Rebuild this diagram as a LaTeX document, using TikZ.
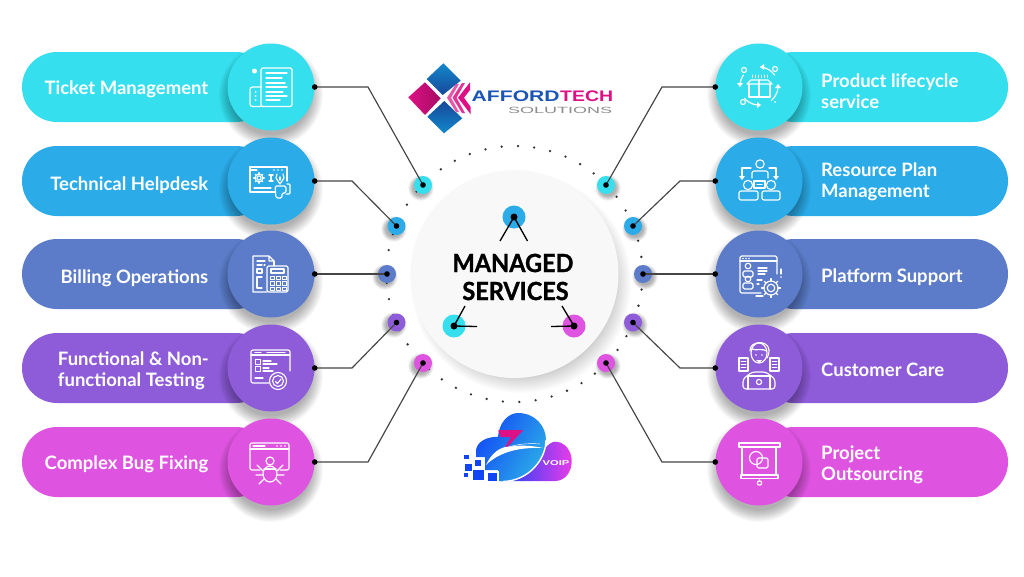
\documentclass[tikz,border=0pt]{standalone}
\usepackage{fontspec}
\setmainfont{Lato}
\newfontfamily\logofont{Liberation Sans}
\newfontfamily\hubfont[BoldFeatures={FakeBold=1.2}]{Lato}
\usetikzlibrary{shapes.misc}
\definecolor{cCy}{HTML}{35DFEE}
\definecolor{cBl}{HTML}{2BABE8}
\definecolor{cSl}{HTML}{5C7CC9}
\definecolor{cPu}{HTML}{8E5CD8}
\definecolor{cMa}{HTML}{DE54E0}
\definecolor{cLine}{HTML}{444444}
\definecolor{cHub}{HTML}{F8F8F8}
\definecolor{cLogoB}{HTML}{1B55B5}
\definecolor{cLogoM}{HTML}{DD1085}
\tikzset{
  pill/.style={rounded rectangle,minimum width=249pt,minimum height=70pt,inner sep=0pt,fill=#1},
  disc/.style={circle,minimum size=87pt,inner sep=0pt,fill=#1},
  mark/.style={circle,minimum size=18pt,inner sep=0pt,fill=#1},
  hubmark/.style={circle,minimum size=23pt,inner sep=0pt,fill=#1},
  pin/.style={circle,minimum size=5.6pt,inner sep=0pt,fill=black},
  wire/.style={draw=cLine,line width=1.15pt},
  lab/.style={text=white,font=\bfseries\fontsize{18.5}{21}\selectfont,inner sep=0pt,align=left},
  one/.style={text height=13pt,text depth=4pt},
  icon/.style={draw=white,line width=1.15pt,line join=round,line cap=round,fill=none},
  ifill/.style={fill=white,draw=none},
  hubtext/.style={text=black,font=\hubfont\bfseries\fontsize{25}{25}\selectfont,inner sep=0pt}
}
\newcommand\softshadow[5]{% x y r extent opacity
  \foreach \i in {0,...,13}{
    \fill[black,opacity=#5] (#1,#2) circle ({#3+#4*(1-\i/13)});
  }}
\newcommand\gearshape[3]{% x y r
  \draw[icon] (#1,#2) circle ({#3*.42});
  \draw[icon] (#1,#2) circle ({#3*.78});
  \foreach \a in {0,45,...,315}{
    \draw[icon] ({#1+#3*.78*cos(\a)},{#2+#3*.78*sin(\a)}) -- ({#1+#3*1.05*cos(\a)},{#2+#3*1.05*sin(\a)});
  }}
\begin{document}
\begin{tikzpicture}[x=1pt,y=-1pt]
\useasboundingbox (0,0) rectangle (1024,576);
\fill[white] (0,0) rectangle (1024,576);

% pills
\node[pill=cCy] (pl1) at (146.5,87) {};
\node[pill=cBl] (pl2) at (146.5,181) {};
\node[pill=cSl] (pl3) at (146.5,274) {};
\node[pill=cPu] (pl4) at (146.5,368) {};
\node[pill=cMa] (pl5) at (146.5,462) {};
\node[pill=cCy] (pr1) at (883.5,87) {};
\node[pill=cBl] (pr2) at (883.5,181) {};
\node[pill=cSl] (pr3) at (883.5,274) {};
\node[pill=cPu] (pr4) at (883.5,368) {};
\node[pill=cMa] (pr5) at (883.5,462) {};

% shadows of discs
\foreach \x in {271,759}{
  \foreach \y in {87,181,274,368,462}{
    \softshadow{\x}{\y+8}{40}{12}{0.024}
  }
}

% discs
\node[disc=cCy] (cl1) at (271,87) {};
\node[disc=cBl] (cl2) at (271,181) {};
\node[disc=cSl] (cl3) at (271,274) {};
\node[disc=cPu] (cl4) at (271,368) {};
\node[disc=cMa] (cl5) at (271,462) {};
\node[disc=cCy] (cr1) at (759,87) {};
\node[disc=cBl] (cr2) at (759,181) {};
\node[disc=cSl] (cr3) at (759,274) {};
\node[disc=cPu] (cr4) at (759,368) {};
\node[disc=cMa] (cr5) at (759,462) {};

% labels
\node[lab,one,anchor=east] (tl1) at (208.5,89.5) {Ticket Management};
\node[lab,one,anchor=east] (tl2) at (208.5,185.5) {Technical Helpdesk};
\node[lab,one,anchor=east] (tl3) at (208.5,278.5) {Billing Operations};
\node[lab,anchor=east] (tl4) at (209,371) {Functional \& Non-\\functional Testing};
\node[lab,one,anchor=east] (tl5) at (208.5,464.5) {Complex Bug Fixing};
\node[lab,anchor=west] (tr1) at (821,91.5) {Product lifecycle\\service};
\node[lab,anchor=west] (tr2) at (821,181.5) {Resource Plan\\Management};
\node[lab,one,anchor=west] (tr3) at (821,277.5) {Platform Support};
\node[lab,one,anchor=west] (tr4) at (821,371.5) {Customer Care};
\node[lab,anchor=west] (tr5) at (821,464.5) {Project\\Outsourcing};

% hub shadow + hub
\softshadow{521}{283}{91}{19}{0.014}
\node[circle,minimum size=208pt,inner sep=0pt,fill=cHub] (hub) at (514.5,274) {};

% dotted ring
\foreach \k in {0,...,48}{
  \pgfmathsetmacro\a{88.4+7.35*\k}
  \fill[black!80] ({514.5+128*cos(\a)},{274-128*sin(\a)}) circle (1.3);
}

% outer marks with shadows
\foreach \x/\y/\d in {423/185/-2,396/226/-2,387/274/-2,396/322/-2,423/363/-2,606/185/2,633/226/2,643/274/2,633/322/2,606/363/2}{
  \softshadow{\x+\d}{\y+3}{8}{5}{0.024}
}
\node[mark=cCy] (ml1) at (423,185) {};
\node[mark=cBl] (ml2) at (396.5,226) {};
\node[mark=cSl] (ml3) at (387,274) {};
\node[mark=cPu] (ml4) at (396.5,322.5) {};
\node[mark=cMa] (ml5) at (423,363) {};
\node[mark=cCy] (mr1) at (606,185) {};
\node[mark=cBl] (mr2) at (633,226) {};
\node[mark=cSl] (mr3) at (643,274) {};
\node[mark=cPu] (mr4) at (633,322.5) {};
\node[mark=cMa] (mr5) at (606,363) {};

% connectors
\coordinate (bl1) at (368,87);
\coordinate (bl2) at (352,181);
\coordinate (bl4) at (352,368);
\coordinate (bl5) at (368,462);
\coordinate (br1) at (662,87);
\coordinate (br2) at (680,181);
\coordinate (br4) at (680,368);
\coordinate (br5) at (662,462);
\draw[wire] (cl1.east) -- (bl1) -- (ml1.center);
\draw[wire] (cl2.east) -- (bl2) -- (ml2.center);
\draw[wire] (cl3.east) -- (ml3.center);
\draw[wire] (cl4.east) -- (bl4) -- (ml4.center);
\draw[wire] (cl5.east) -- (bl5) -- (ml5.center);
\draw[wire] (cr1.west) -- (br1) -- (mr1.center);
\draw[wire] (cr2.west) -- (br2) -- (mr2.center);
\draw[wire] (cr3.west) -- (mr3.center);
\draw[wire] (cr4.west) -- (br4) -- (mr4.center);
\draw[wire] (cr5.west) -- (br5) -- (mr5.center);
\foreach \n in {ml1,ml2,ml3,ml4,ml5,mr1,mr2,mr3,mr4,mr5}{
  \node[pin] at (\n.center) {};
}
\foreach \n in {cl1,cl2,cl3,cl4,cl5}{ \node[pin] at (\n.east) {}; }
\foreach \n in {cr1,cr2,cr3,cr4,cr5}{ \node[pin] at (\n.west) {}; }

% hub marks
\node[hubmark=cBl] (h1) at (514,217) {};
\node[hubmark=cCy] (h2) at (454,326) {};
\node[hubmark=cMa] (h3) at (574,326) {};
\coordinate (h1a) at (500,241);
\coordinate (h1b) at (527.5,241);
\coordinate (h2a) at (465,306);
\coordinate (h2b) at (477,326.5);
\coordinate (h3a) at (562,306);
\coordinate (h3b) at (551,326.5);
\draw[black,line width=1.3pt] (h1a) -- (h1.center) -- (h1b);
\draw[black,line width=1.3pt] (h2a) -- (h2.center) -- (h2b);
\draw[black,line width=1.3pt] (h3a) -- (h3.center) -- (h3b);
\node[pin,minimum size=7pt] at (h1.center) {};
\node[pin,minimum size=7pt] at (h2.center) {};
\node[pin,minimum size=7pt] at (h3.center) {};

\node[hubtext] (t1) at (513,263) {\scalebox{.94}[1]{MANAGED}};
\node[hubtext] (t2) at (515.5,291) {\scalebox{.94}[1]{SERVICES}};

% ---------- icons ----------
% ticket
\begin{scope}[shift={(271,87)}]
  \draw[icon,rounded corners=1.5] (-10,19.5) -- (-10,-19) -- (21,-19) -- (21,19.5) -- cycle;
  \draw[icon,rounded corners=2.5] (-10,0) -- (-21,0) -- (-21,19.5) -- (-10,19.5);
  \fill[ifill] (-16.5,-16) circle (2.5);
  \foreach \y/\e in {-14/16,-9/11,-4/14,0/16,5/12,9/16,13/9}{ \draw[icon] (-5,\y) -- (\e,\y); }
  \foreach \y in {5,9,13}{ \fill[ifill] (-15.5,\y) circle (1); }
\end{scope}
% technical
\begin{scope}[shift={(271,181)}]
  \draw[icon] (4,11) -- (-21,11) -- (-21,-14) -- (16,-14) -- (16,0);
  \draw[icon] (-21,-11) -- (-14,-11);
  \foreach \x in {3,7,11}{ \fill[ifill] (\x,-11) circle (.8); }
  \gearshape{-12}{-3}{5}
  \draw[icon] (-2,-6) -- (2,-6) (0,-6) -- (0,0) (-2,0) -- (2,0);
  \draw[icon] (-17,7) -- (0,7);
  \draw[icon] (6,-7) -- (5,-3) -- (9,3) -- (13,-3) -- (12,-7);
  \draw[icon] (9,-4) -- (9,-1);
  \draw[icon,rounded corners=1.5] (4,5) -- (15,5) -- (15,12) -- (11,12) -- (11,17) -- (5,17) -- cycle;
  \draw[icon,rounded corners=1] (16,3) -- (19,3) -- (19,13) -- (15,13);
\end{scope}
% billing
\begin{scope}[shift={(271,274)}]
  \draw[icon] (-4,18) -- (-18,18) -- (-18,-18) -- (-2,-18) -- (3,-13) (-2,-18) -- (-2,-13) -- (3,-13);
  \draw[icon] (3,-13) -- (3,-8);
  \draw[icon] (-14,-13) -- (-6,-13);
  \draw[icon] (-14,-9) -- (-9,-9) (-7,-9) -- (-6,-9);
  \draw[icon] (-14,-5) rectangle (-9,-1);
  \draw[icon] (-9,3) -- (-14,3) -- (-14,14) -- (-9,14);
  \draw[icon,rounded corners=1.5] (-4,-8) rectangle (17,18);
  \draw[icon] (0,-5) rectangle (13,-1);
  \foreach \x in {-1,5,11}{ \foreach \y in {2,7.5,13}{ \draw[icon,line width=.9pt] (\x,\y) rectangle ++(4,3.5); } }
\end{scope}
% testing
\begin{scope}[shift={(271,368)}]
  \draw[icon,rounded corners=2] (-2,15) -- (-20,15) -- (-20,-18) -- (19,-18) -- (19,3);
  \draw[icon] (-20,-13) -- (19,-13);
  \draw[icon] (-16,-15.5) -- (-10,-15.5) (-4,-15.5) -- (14,-15.5);
  \draw[icon] (-15.5,-8.5) rectangle (-10.5,-3.5);
  \draw[icon] (-15.5,-1.5) rectangle (-10.5,3.5);
  \draw[icon] (-8,-7) -- (0,-7) (-8,-4) -- (6,-4);
  \draw[icon] (-8,0) -- (-2,0) (-8,3) -- (2,3);
  \draw[icon] (-16,10) -- (-8,10);
  \draw[icon] (7,13) circle (8.5);
  \draw[icon] (7,13) circle (5.5);
  \draw[icon] (4.5,13.5) -- (6.5,15.5) -- (10,11);
\end{scope}
% bug
\begin{scope}[shift={(271,462)}]
  \draw[icon,rounded corners=2] (-11,8) -- (-21,8) -- (-21,-19) -- (18,-19) -- (18,8) -- (9,8);
  \draw[icon] (-21,-13) -- (18,-13);
  \draw[icon] (-18,-16) -- (-6,-16);
  \foreach \x in {6,10,14}{ \fill[ifill] (\x,-16) circle (.9); }
  \draw[icon] (-1,12) ellipse (7 and 8);
  \draw[icon] (-1,-1) circle (4);
  \draw[icon] (-8,9) -- (-14,3) (-8,13) -- (-15,13) (-7,17) -- (-12,22);
  \draw[icon] (6,9) -- (12,3) (6,13) -- (13,13) (5,17) -- (10,22);
  \draw[icon] (-7,7) -- (5,7);
\end{scope}
% product
\begin{scope}[shift={(759,87)}]
  \foreach \s/\e in {-85/-35,0/50,95/140,180/215}{
    \draw[icon] plot[domain=\s:\e,samples=12] ({19*cos(\x)},{-1+19*sin(\x)});
  }
  \fill[ifill] (1,-20) -- (5,-23) -- (5,-17) -- cycle;
  \fill[ifill] (19,-3) -- (22,1) -- (16,1) -- cycle;
  \fill[ifill] (2,18) -- (-2,15) -- (-2,21) -- cycle;
  \fill[ifill] (-19,0) -- (-22,-4) -- (-16,-4) -- cycle;
  \draw[icon] (-15,-17) circle (2.5);
  \draw[icon] (16,-18) circle (2.5);
  \draw[icon] (-16,15) circle (2.5);
  \fill[ifill] (16,15) circle (1);
  \draw[icon] (-12,-3) -- (-8,-7) -- (9,-7) -- (13,-3) -- cycle;
  \draw[icon] (-10,-3) -- (-10,10) -- (11,10) -- (11,-3);
  \draw[icon] (0,-7) -- (0,10);
  \foreach \x in {-7,-4,-1,2,5,8}{ \draw[icon,line width=.6pt] (\x,-12) -- (\x,-9.5); }
\end{scope}
% resource
\begin{scope}[shift={(759,181)}]
  \draw[icon] (1,-17) circle (4.2);
  \draw[icon,rounded corners=2] (-7,-3) -- (-7,-10) -- (9,-10) -- (9,-3);
  \draw[icon] (-8,-13) -- (-17,-13) -- (-17,-4);
  \draw[icon] (10,-13) -- (17,-13) -- (17,-4);
  \fill[ifill] (-17,-1) -- (-20,-5) -- (-14,-5) -- cycle;
  \fill[ifill] (17,-1) -- (14,-5) -- (20,-5) -- cycle;
  \draw[icon] (-5,0) rectangle (6,7);
  \draw[icon] (-2,3.5) -- (3,3.5);
  \draw[icon] (-11,4) circle (4.6);
  \draw[icon] (12,4) circle (4.6);
  \draw[icon,rounded corners=2] (-20,19) -- (-20,10) -- (-1,10) -- (-1,19) -- cycle;
  \draw[icon,rounded corners=2] (3,19) -- (3,10) -- (21,10) -- (21,19) -- cycle;
\end{scope}
% platform
\begin{scope}[shift={(759,274)}]
  \draw[icon,rounded corners=1.5] (2,19) -- (-19,19) -- (-19,-18) -- (18,-18) -- (18,0);
  \draw[icon] (-19,-13) -- (18,-13);
  \foreach \x in {-16,-13,-10}{ \fill[ifill] (\x,-15.5) circle (.8); }
  \draw[icon] (-11,-8) circle (2.8);
  \draw[icon,rounded corners=1.5] (-16,3) -- (-16,-3) -- (-6,-3) -- (-6,3) -- cycle;
  \draw[icon] (-11,5) circle (2.8);
  \draw[icon,rounded corners=1.5] (-16,15) -- (-16,9) -- (-6,9) -- (-6,15) -- cycle;
  \draw[icon] (-1,-6) -- (8,-6) (-1,-3) -- (8,-3) (-1,0) -- (6,0);
  \draw[icon] (-2,6) -- (3,6) (-2,10) -- (0,10);
  \draw[icon,line width=1.2pt] (-3,22) -- (4,22);
  \gearshape{12}{14}{9}
  \draw[icon] (22,-5) -- (22,0);
  \fill[ifill] (22,3) circle (.8);
\end{scope}
% customer
\begin{scope}[shift={(759,368)}]
  \draw[icon] (0,-15) ellipse (8 and 10);
  \draw[icon] (-9,-17) .. controls (-10,-27) and (9,-29) .. (10,-18) .. controls (10,-14) and (9,-12) .. (8,-10);
  \draw[icon] (-7,-19) .. controls (-3,-17) and (3,-20) .. (8,-17);
  \fill[ifill] (-3,-13) circle (.9);
  \fill[ifill] (3,-13) circle (.9);
  \fill[ifill] (-3,-8) -- (3,-8) -- (0,-5) -- cycle;
  \draw[icon] (-20,-10) rectangle (-11,3);
  \draw[icon] (11,-10) rectangle (20,3);
  \foreach \y in {-7,-4,-1}{ \draw[icon,line width=.8pt] (-18,\y) -- (-13,\y); \draw[icon,line width=.8pt] (13,\y) -- (18,\y); }
  \draw[icon,rounded corners=3] (-16,21) -- (-16,11) -- (-7,4) -- (7,4) -- (16,11) -- (16,21) -- cycle;
  \draw[icon] (-11,21) -- (-11,8) -- (11,8) -- (11,21);
  \draw[icon] (0,14) circle (2.6);
\end{scope}
% project
\begin{scope}[shift={(759,462)}]
  \draw[icon] (-20,-19) rectangle (21,-15);
  \draw[icon] (-17,-15) -- (-17,13) (17,-15) -- (17,13);
  \draw[icon] (-18,13) rectangle (19,16.5);
  \draw[icon] (0.5,16.5) -- (0.5,19);
  \draw[icon] (0.5,21) circle (2.2);
  \draw[icon] (-3,-4) circle (6.5);
  \draw[icon,rounded corners=1.5] (-2,-4) rectangle (9,6);
\end{scope}

% ---------- AffordTech logo ----------
\shade[top color=cLogoB!70!cyan,bottom color=cLogoB!85!black] (443.3,63.3) -- (460.7,80.7) -- (442.7,95) -- (426.7,79) -- cycle;
\shade[left color=cLogoM,right color=cLogoM!75!black] (408.3,97.3) -- (425,82.3) -- (440.7,98.3) -- (425,115) -- cycle;
\shade[top color=cLogoB!85!black,bottom color=cLogoB!70!cyan] (444.3,101) -- (462.3,118.3) -- (444,133.3) -- (427.3,116.7) -- cycle;
\fill[cLogoM!70] (456,84) -- (447,97.7) -- (456,112) -- (459,112) -- (451,97.7) -- (459,84) -- cycle;
\fill[cLogoM!85] (462,83) -- (452.5,97.7) -- (462,113) -- (465,113) -- (456.5,97.7) -- (465,83) -- cycle;
\fill[cLogoM] (470,82.3) -- (458,97.7) -- (470.7,114.3) -- (470.7,107) -- (464,97.7) -- (470,90) -- cycle;
\node[inner sep=0pt,anchor=base west,text=cLogoB,font=\logofont\bfseries\fontsize{15.3}{15}\selectfont] (aff) at (471.5,101.7) {\scalebox{1.38}[1]{AFFORD}};
\node[inner sep=0pt,anchor=base west,text=cLogoM,font=\logofont\bfseries\fontsize{15.3}{15}\selectfont] (tech) at (560,101.7) {\scalebox{1.27}[1]{TECH}};
\node[inner sep=0pt,anchor=base west,text=black!45,font=\logofont\fontsize{9}{9}\selectfont] (sol) at (508,113.5) {\scalebox{2}[1]{SOLUTIONS}};

% ---------- VoIP logo ----------
\shade[left color=blue!60!cBl,right color=cMa!70!magenta] (500,481) -- (546,447) .. controls (550,443) and (553,441.7) .. (555,441.7) .. controls (565,441.7) and (571.7,451) .. (571.7,461) .. controls (571.7,472) and (565,481) .. (555,481) -- cycle;
\shade[left color=blue!55!cBl,right color=cBl,shading angle=60] (498,481) -- (498,470) -- (485,470) -- (485,457) -- (476,457) -- (476,450) .. controls (477,443) and (484,437) .. (498,436.7) .. controls (499,423) and (508,413) .. (518,413) .. controls (535,413) and (546,426) .. (546,440) .. controls (546,460) and (528,481) .. (505,481) -- cycle;
\draw[white,line width=1.4pt] (546,440) .. controls (546,460) and (528,481) .. (503,481.5);
\fill[blue!60!cBl] (464,455) rectangle (469,459);
\fill[blue!60!cBl] (474.5,459.5) rectangle (481,466);
\fill[blue!60!cBl] (465,464) rectangle (472,471);
\fill[blue!60!cBl] (464,473) rectangle (468,477);
\fill[blue!60!cBl] (472.5,470) rectangle (484,480);
\fill[white] (486,470.5) rectangle (499,482);
\fill[blue!60!cBl] (488.3,472.7) rectangle (496.7,481);
\fill[cLogoM] (498.3,430) -- (523.3,430) -- (501.7,453) -- (511,437) -- (500.5,437) -- cycle;
\fill[white] (486,465) .. controls (490,456) and (497,449) .. (505,447) -- (511,446.5) .. controls (520,445) and (532,445.5) .. (543,448) .. controls (522,447) and (500,451) .. (486,465) -- cycle;
\draw[white,line width=.5pt] (503,449) .. controls (515,444) and (528,443) .. (540,444);
\node[inner sep=0pt,text=white,font=\logofont\bfseries\fontsize{7}{7}\selectfont] (voip) at (556,463) {\scalebox{1.6}[1]{VOIP}};
\end{tikzpicture}
\end{document}
